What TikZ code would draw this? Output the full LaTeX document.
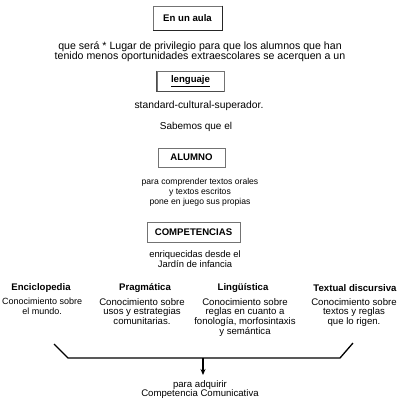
\documentclass[tikz,border=0pt]{standalone}
\usepackage{fontspec}
\setmainfont{Liberation Sans}
\usetikzlibrary{arrows.meta}
\tikzset{
  x=1pt, y=-1pt,
  txt/.style={inner sep=0pt, align=center, font=\fontsize{9.6}{9.8}\selectfont},
  hdr/.style={txt, font=\fontsize{9.6}{9.8}\selectfont\bfseries},
  boxnode/.style={draw=black!55, line width=0.7pt, fill=white, inner sep=0pt,
    font=\fontsize{9.6}{10}\selectfont\bfseries},
  bracket/.style={line width=1.3pt, black},
  arrowline/.style={line width=1.3pt, black, -{Stealth[length=6pt,width=5pt]}},
}
\begin{document}
\begin{tikzpicture}
\useasboundingbox (0,0) rectangle (400,410);
% boxes
\node[boxnode, minimum width=69pt, minimum height=24pt] (aula) at (187.5,18) {En un aula};
\draw[black!85, line width=1pt] (aula.north east) -- (aula.south east) -- (aula.south west);
\node[boxnode, minimum width=67pt, minimum height=20pt] (leng) at (190.5,81) {\underline{lenguaje}};
\draw[black!70, line width=1pt] (leng.north west) -- (leng.south west) -- (leng.south east);
\node[boxnode, minimum width=67pt, minimum height=19pt] (alum) at (191.5,157.5) {ALUMNO};
\node[boxnode, minimum width=93pt, minimum height=20pt] (comp) at (193.5,232) {COMPETENCIAS};
% texts
\node[txt, font=\fontsize{10.6}{10}\selectfont] (t1) at (200,52) {que será * Lugar de privilegio para que los alumnos que han\\tenido menos oportunidades extraescolares se acerquen a un};
\node[txt, font=\fontsize{10.3}{10}\selectfont] (t2) at (199,106) {standard-cultural-superador.};
\node[txt, font=\fontsize{10}{10}\selectfont] (t3) at (196,127) {Sabemos que el};
\node[txt, font=\fontsize{8.6}{9.8}\selectfont] (t4) at (200,192) {para comprender textos orales\\y textos escritos\\pone en juego sus propias};
\node[txt, font=\fontsize{9.4}{9.8}\selectfont] (t5) at (195,259) {enriquecidas desde el\\Jardín de infancia};
% headers
\node[hdr] (h1) at (41,288) {Enciclopedia};
\node[hdr] (h2) at (145,288) {Pragmática};
\node[hdr] (h3) at (243,288) {Lingüística};
\node[hdr] (h4) at (355,288) {Textual discursiva};
% descriptions
\node[txt, anchor=north west, font=\fontsize{9}{9.8}\selectfont] (d1) at (2,298) {Conocimiento sobre\\el mundo.};
\node[txt, anchor=north] (d2) at (142,298) {Conocimiento sobre\\usos y estrategias\\comunitarias.};
\node[txt, anchor=north] (d3) at (245,298) {Conocimiento sobre\\reglas en cuanto a\\fonología, morfosintaxis\\y semántica};
\node[txt, anchor=north] (d4) at (354,298) {Conocimiento sobre\\textos y reglas\\que lo rigen.};
% bracket
\coordinate (b1) at (54,344);
\coordinate (b2) at (68,358);
\coordinate (b3) at (340,358);
\coordinate (b4) at (353,343);
\coordinate (ar0) at (203,358);
\coordinate (ar1) at (203,375);
\draw[bracket] (b1) -- (b2) -- (b3) -- (b4);
\draw[arrowline] (ar0) -- (ar1);
\node[txt] (fin) at (200,389.5) {para adquirir\\Competencia Comunicativa};
\end{tikzpicture}
\end{document}
